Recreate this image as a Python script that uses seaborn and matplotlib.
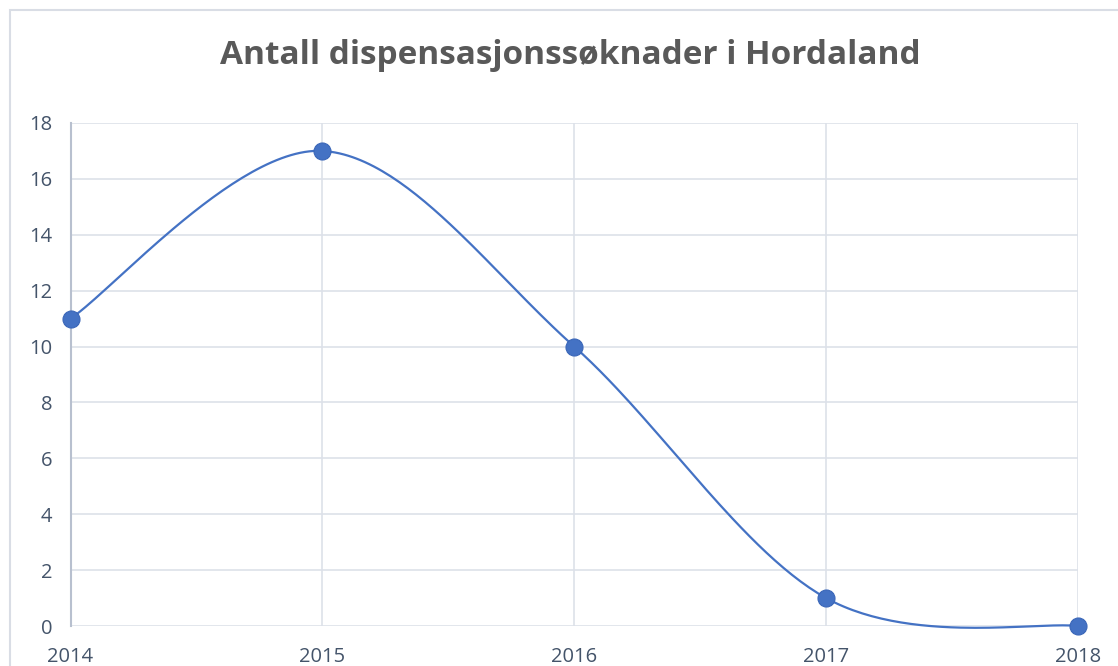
import numpy as np
import pandas as pd
import matplotlib
matplotlib.use("Agg")
import matplotlib.pyplot as plt
import seaborn as sns
from matplotlib.patches import Rectangle

years = [2014, 2015, 2016, 2017, 2018]
counts = [11, 17, 10, 1, 0]
title = "Antall dispensasjonssøknader i Hordaland"
y_ticks = [0, 2, 4, 6, 8, 10, 12, 14, 16, 18]

sns.set_theme(style="white")
plt.rcParams['font.family'] = ['Open Sans', 'DejaVu Sans']

LINE = "#4472C4"
GRID = "#dde1e9"
TXT = "#44546a"


def excel_smooth(xs, ys, n=60):
    xs = np.asarray(xs, float)
    ys = np.asarray(ys, float)
    P = np.column_stack([xs, ys])
    out = []
    for i in range(len(P) - 1):
        p0 = P[i - 1] if i > 0 else P[i]
        p1 = P[i]
        p2 = P[i + 1]
        p3 = P[i + 2] if i + 2 < len(P) else P[i + 1]
        c1 = p1 + (p2 - p0) / 6.0
        c2 = p2 - (p3 - p1) / 6.0
        t = np.linspace(0, 1, n)[:, None]
        seg = ((1 - t) ** 3) * p1 + 3 * ((1 - t) ** 2) * t * c1 + 3 * (1 - t) * t ** 2 * c2 + t ** 3 * p2
        if i > 0:
            seg = seg[1:]
        out.append(seg)
    return np.vstack(out)


curve = excel_smooth(years, counts)
curve_df = pd.DataFrame({"x": curve[:, 0], "y": curve[:, 1]})
pts_df = pd.DataFrame({"x": years, "y": counts})

fig = plt.figure(figsize=(11.18, 6.66), dpi=100)
fig.patch.set_facecolor("white")
fig.patches.append(Rectangle((10 / 1118, -0.2), 1.5, (656 / 666) + 0.2,
                             transform=fig.transFigure, fill=False,
                             edgecolor="#d9dde5", linewidth=1.5, zorder=0))

ax = fig.add_axes([70.5 / 1118, 40 / 666, (1078 - 70.5) / 1118, (626 - 123) / 666])
ax.set_facecolor("none")

sns.lineplot(data=curve_df, x="x", y="y", ax=ax, sort=False, estimator=None,
             color=LINE, linewidth=1.6, clip_on=False, zorder=3)
sns.scatterplot(data=pts_df, x="x", y="y", ax=ax, s=150, color=LINE,
                edgecolor="#3a66b8", linewidth=0.8, clip_on=False, zorder=4)

ax.set_xlim(2014, 2018)
ax.set_ylim(0, 18)
ax.set_xticks(years)
ax.set_yticks(y_ticks)
ax.set_xticklabels([str(y) for y in years])
ax.set_xlabel("")
ax.set_ylabel("")
ax.grid(True, color=GRID, linewidth=1.2)
ax.set_axisbelow(True)
for s in ["top", "right", "bottom"]:
    ax.spines[s].set_visible(False)
ax.spines["left"].set_color("#b8c0cf")
ax.spines["left"].set_linewidth(1.5)
ax.tick_params(axis="both", length=0, labelsize=14.5, labelcolor=TXT)
ax.tick_params(axis="y", pad=13)
ax.tick_params(axis="x", pad=15)

fig.text(0.51, 1 - 55 / 666, title, ha="center", va="center",
         fontsize=24, fontweight="bold", color="#595959")

fig.savefig("out.png", dpi=100)
